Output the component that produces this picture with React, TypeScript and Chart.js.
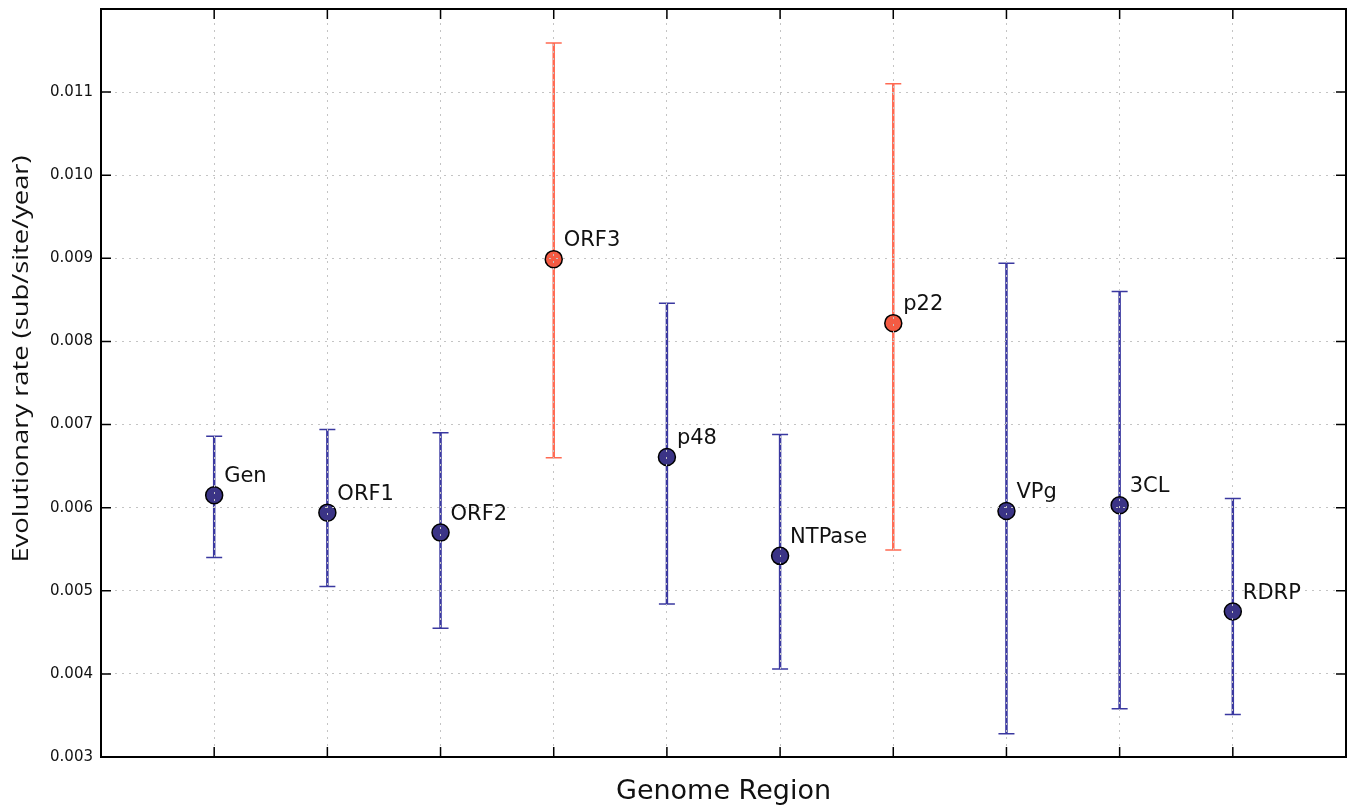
import React, { useEffect, useRef } from "react";
import { Chart, registerables } from "chart.js";

Chart.register(...registerables);

const regions = ["Gen", "ORF1", "ORF2", "ORF3", "p48", "NTPase", "p22", "VPg", "3CL", "RDRP"];
const rates = [0.00615, 0.00594, 0.0057, 0.00899, 0.00661, 0.00542, 0.00822, 0.00596, 0.00603, 0.00475];
const lowerCI = [0.0054, 0.00505, 0.00455, 0.0066, 0.00484, 0.00406, 0.00549, 0.00328, 0.00358, 0.00351];
const upperCI = [0.00686, 0.00694, 0.0069, 0.01159, 0.00846, 0.00688, 0.0111, 0.00894, 0.0086, 0.00611];
const highlighted = [false, false, false, true, false, false, true, false, false, false];
const yTicksMin = 0.003;
const yTicksMax = 0.012;
const xTitle = "Genome Region";
const yTitle = "Evolutionary rate (sub/site/year)";

const BLUE_FILL = "#3b3486";
const BLUE_LINE = "#3a38a0";
const RED_FILL = "#f45b43";
const RED_LINE = "#ff6a52";
const FONT = "'DejaVu Sans', sans-serif";

const zeroPad = (s: any) => {
  s.paddingLeft = 0;
  s.paddingRight = 0;
  s.paddingTop = 0;
  s.paddingBottom = 0;
};

export default function App() {
  const ref = useRef<HTMLCanvasElement | null>(null);

  useEffect(() => {
    document.body.style.margin = "0";
    const canvas = ref.current!;

    const errorBars = {
      id: "errorBars",
      beforeDatasetsDraw(chart: any) {
        const { ctx } = chart;
        const xs = chart.scales.x;
        const ys = chart.scales.y;
        ctx.save();
        regions.forEach((_, i) => {
          const px = xs.getPixelForValue(i + 1);
          const yl = ys.getPixelForValue(lowerCI[i]);
          const yh = ys.getPixelForValue(upperCI[i]);
          const c = highlighted[i] ? RED_LINE : BLUE_LINE;
          ctx.strokeStyle = c;
          ctx.lineWidth = 2.5;
          ctx.beginPath();
          ctx.moveTo(px, yl);
          ctx.lineTo(px, yh);
          ctx.stroke();
          ctx.lineWidth = 1.5;
          ctx.beginPath();
          ctx.moveTo(px - 8, yl);
          ctx.lineTo(px + 8, yl);
          ctx.moveTo(px - 8, yh);
          ctx.lineTo(px + 8, yh);
          ctx.stroke();
        });
        ctx.restore();
      },
    };

    const frameAndLabels = {
      id: "frameAndLabels",
      afterDraw(chart: any) {
        const { ctx, chartArea } = chart;
        const xs = chart.scales.x;
        const ys = chart.scales.y;
        ctx.save();
        // point labels
        ctx.fillStyle = "#111";
        ctx.font = `21px ${FONT}`;
        ctx.textAlign = "left";
        ctx.textBaseline = "alphabetic";
        regions.forEach((name, i) => {
          const px = xs.getPixelForValue(i + 1);
          const py = ys.getPixelForValue(rates[i]);
          ctx.fillText(name, px + 10, py - 13);
        });
        // y title
        ctx.save();
        ctx.translate(28, 359);
        ctx.rotate(-Math.PI / 2);
        ctx.scale(1.3, 1);
        ctx.font = `21px 'Open Sans', sans-serif`;
        ctx.textAlign = "center";
        ctx.textBaseline = "alphabetic";
        ctx.fillText(yTitle, 0, 0);
        ctx.restore();
        // inward ticks
        ctx.strokeStyle = "#000";
        ctx.lineWidth = 1.5;
        ctx.beginPath();
        for (let v = 1; v <= regions.length; v++) {
          const px = xs.getPixelForValue(v);
          ctx.moveTo(px, chartArea.bottom);
          ctx.lineTo(px, chartArea.bottom - 10);
          ctx.moveTo(px, chartArea.top);
          ctx.lineTo(px, chartArea.top + 10);
        }
        ys.ticks.forEach((t: any) => {
          if (t.value <= yTicksMin + 1e-9 || t.value >= yTicksMax - 1e-9) return;
          const py = ys.getPixelForValue(t.value);
          ctx.moveTo(chartArea.left, py);
          ctx.lineTo(chartArea.left + 10, py);
          ctx.moveTo(chartArea.right, py);
          ctx.lineTo(chartArea.right - 10, py);
        });
        ctx.stroke();
        // frame
        ctx.lineWidth = 2;
        ctx.strokeRect(chartArea.left, chartArea.top, chartArea.right - chartArea.left, chartArea.bottom - chartArea.top);
        ctx.restore();
      },
    };

    const chart = new Chart(canvas, {
      type: "scatter",
      data: {
        datasets: [
          {
            label: "Evolutionary rate",
            data: rates.map((v, i) => ({ x: i + 1, y: v })),
            pointRadius: 8.5,
            pointHoverRadius: 8.5,
            pointBackgroundColor: highlighted.map((h) => (h ? RED_FILL : BLUE_FILL)),
            pointBorderColor: "#000",
            pointBorderWidth: 1.5,
            showLine: false,
          },
        ],
      },
      options: {
        responsive: false,
        animation: false,
        events: [],
        layout: { autoPadding: false, padding: { top: 9, right: 4, left: 0, bottom: 0 } },
        plugins: { legend: { display: false }, tooltip: { enabled: false } },
        scales: {
          x: {
            type: "linear",
            min: 0,
            max: regions.length + 1,
            afterFit: (s: any) => {
              s.height = 51;
              zeroPad(s);
            },
            ticks: { stepSize: 1, display: false },
            grid: { color: "#c4c4c4", lineWidth: 1, drawTicks: false, z: 1 },
            border: { display: false, dash: [2, 5] },
            title: {
              display: true,
              text: xTitle,
              color: "#111",
              font: { family: FONT, size: 27 },
              padding: { top: 0, bottom: 0 },
            },
          },
          y: {
            type: "linear",
            min: yTicksMin,
            max: yTicksMax,
            afterFit: (s: any) => {
              s.width = 101;
              zeroPad(s);
            },
            ticks: {
              stepSize: 0.001,
              color: "#111",
              padding: 8,
              font: { family: FONT, size: 15 },
              callback: (v: any) => (Number(v) >= yTicksMax - 1e-9 ? "" : Number(v).toFixed(3)),
            },
            grid: { color: "#c4c4c4", lineWidth: 1, drawTicks: false, z: 1 },
            border: { display: false, dash: [2, 5] },
            title: { display: false },
          },
        },
      },
      plugins: [errorBars, frameAndLabels],
    } as any);

    return () => chart.destroy();
  }, []);

  return <canvas ref={ref} width={1350} height={808} style={{ display: "block" }} />;
}
